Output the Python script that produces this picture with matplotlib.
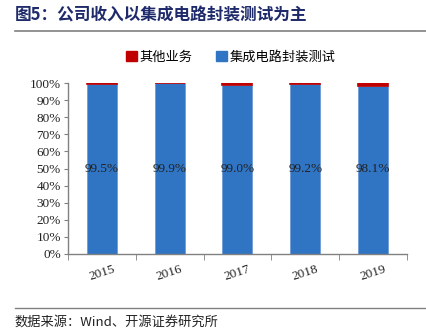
import numpy as np
import matplotlib.pyplot as plt
from matplotlib.patches import Rectangle
from matplotlib.lines import Line2D

years = ['2015', '2016', '2017', '2018', '2019']
ic_share = [99.5, 99.9, 99.0, 99.2, 98.1]          # 集成电路封装测试
other_share = [100 - v for v in ic_share]           # 其他业务
yticks = [0, 10, 20, 30, 40, 50, 60, 70, 80, 90, 100]

cjk = ['Noto Sans CJK SC', 'DejaVu Sans']
serif = ['Liberation Serif', 'DejaVu Serif']
blue = '#3074C4'
red = '#C00000'
grey = '#808080'

fig = plt.figure(figsize=(4.27, 3.35), dpi=100)
ax = fig.add_axes([0.159, 0.242, 0.794, 0.510])

x = np.arange(len(years))
ax.bar(x, ic_share, width=0.44, color=blue, edgecolor='#6E9BD6', linewidth=0.6)
ax.bar(x, other_share, width=0.44, bottom=ic_share, color=red, edgecolor=red, linewidth=1.2)
for xi, v in zip(x, ic_share):
    ax.text(xi, 50, '%.1f%%' % v, ha='center', va='center', fontsize=9.5, family=serif, color='#222222')

ax.set_xlim(-0.5, len(years) - 0.5)
ax.set_ylim(0, 100)
ax.set_yticks(yticks)
ax.set_yticklabels(['%d%%' % t for t in yticks], family=serif, fontsize=9.5, color='#222222')
ax.set_xticks(x)
ax.set_xticklabels(years, family=serif, fontsize=9.5, rotation=18, color='#222222')
ax.tick_params(axis='x', length=0, pad=7)
ax.tick_params(axis='y', length=3, color=grey, pad=2)
ax.set_xticks(np.arange(-0.5, len(years)), minor=True)
ax.tick_params(axis='x', which='minor', length=4, color=grey, direction='out')
for s in ['top', 'right']:
    ax.spines[s].set_visible(False)
for s in ['left', 'bottom']:
    ax.spines[s].set_color(grey)
    ax.spines[s].set_linewidth(1.0)

# legend
handles = [Rectangle((0, 0), 1, 1, color=red), Rectangle((0, 0), 1, 1, color=blue)]
fig.legend(handles, ['其他业务', '集成电路封装测试'], loc='center', bbox_to_anchor=(0.54, 0.83),
           ncol=2, frameon=False, prop={'family': cjk, 'size': 9.5},
           handlelength=0.8, handleheight=0.8, handletextpad=0.2, columnspacing=1.8)

# title and source
fig.text(0.035, 0.953, '图5：公司收入以集成电路封装测试为主', family=cjk, fontsize=12,
         fontweight='bold', color='#1F2A6B', va='center')
fig.add_artist(Line2D([0.035, 1.0], [0.907, 0.907], color=grey, linewidth=1.2))
fig.add_artist(Line2D([0.035, 1.0], [0.080, 0.080], color=grey, linewidth=1.0))
fig.text(0.035, 0.038, '数据来源：Wind、开源证券研究所', family=cjk, fontsize=9.5,
         color='#222222', va='center')

plt.savefig('out.png', dpi=100)
